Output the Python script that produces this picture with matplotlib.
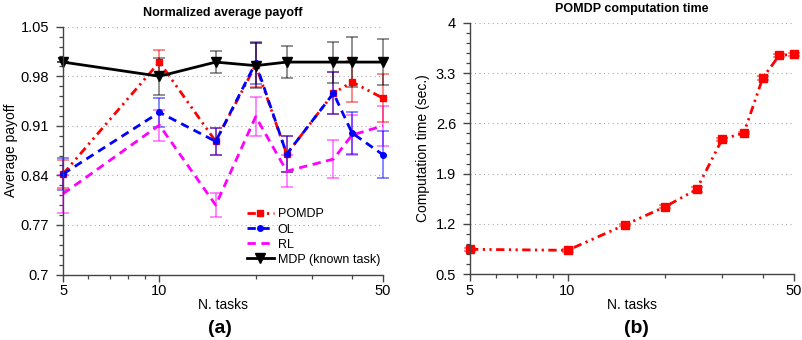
import numpy as np
import matplotlib
matplotlib.use("Agg")
import matplotlib.pyplot as plt

plt.rcParams['font.family'] = ['Liberation Sans', 'DejaVu Sans']

# Normalized average payoff vs number of tasks
n_tasks = [5, 10, 15, 20, 25, 35, 40, 50]
pomdp_payoff = [0.842, 1.000, 0.888, 0.996, 0.870, 0.956, 0.972, 0.949]
pomdp_err = [0.020, 0.017, 0.019, 0.031, 0.025, 0.030, 0.029, 0.034]
ol_payoff = [0.842, 0.929, 0.888, 0.999, 0.870, 0.956, 0.900, 0.869]
ol_err = [0.023, 0.020, 0.019, 0.030, 0.025, 0.030, 0.030, 0.033]
rl_payoff = [0.814, 0.911, 0.798, 0.923, 0.846, 0.863, 0.897, 0.910]
rl_err = [0.027, 0.022, 0.017, 0.027, 0.023, 0.027, 0.028, 0.028]
mdp_payoff = [1.000, 0.980, 1.000, 0.995, 1.000, 1.000, 1.000, 1.000]
mdp_err = [0.000, 0.026, 0.015, 0.032, 0.023, 0.029, 0.035, 0.032]

# POMDP computation time
time_tasks = [5, 10, 15, 20, 25, 30, 35, 40, 45, 50]
time_sec = [0.848, 0.834, 1.186, 1.440, 1.680, 2.380, 2.465, 3.230, 3.546, 3.560]
time_err = [0.02, 0.02, 0.02, 0.02, 0.03, 0.02, 0.02, 0.03, 0.02, 0.02]

payoff_ticks = [0.7, 0.77, 0.84, 0.91, 0.98, 1.05]
payoff_labels = ['0.7', '0.77', '0.84', '0.91', '0.98', '1.05']
time_ticks = [0.5, 1.2, 1.9, 2.6, 3.3, 4.0]
time_labels = ['0.5', '1.2', '1.9', '2.6', '3.3', '4']

fig = plt.figure(figsize=(8.03, 3.4), dpi=100)
ax1 = fig.add_axes([0.0785, 0.1926, 0.3985, 0.7289])
ax2 = fig.add_axes([0.5853, 0.1932, 0.4036, 0.7400])

red, blue, mag = '#ff0000', '#0000ff', '#ff00ff'
dashdot = (0, (3.0, 1.6, 0.8, 1.6, 0.8, 1.6))


def style_axis(ax, yticks, ylabels, minor_step):
    ax.set_xscale('log')
    ax.set_xlim(5, 50)
    ax.set_xticks([5, 10, 50])
    ax.set_xticklabels(['5', '10', '50'])
    ax.set_xticks([6, 7, 8, 9, 20, 30, 40], minor=True)
    ax.set_xticklabels([], minor=True)
    ax.set_ylim(yticks[0], yticks[-1])
    ax.set_yticks(yticks)
    ax.set_yticklabels(ylabels)
    ax.set_yticks(np.arange(yticks[0], yticks[-1] + 1e-9, minor_step), minor=True)
    for s in ['top', 'right']:
        ax.spines[s].set_visible(False)
    for s in ['left', 'bottom']:
        ax.spines[s].set_color('#444444')
        ax.spines[s].set_linewidth(1.0)
    ax.tick_params(which='major', direction='out', length=5, width=1,
                   color='#444444', labelsize=10.5, pad=5)
    ax.tick_params(which='minor', direction='out', length=3, width=0.9,
                   color='#444444')
    ax.tick_params(axis='x', which='major', pad=2)
    ax.yaxis.grid(True, which='major', linestyle=(0, (1, 3)),
                  color='#aaaaaa', linewidth=0.8)
    ax.set_axisbelow(True)


style_axis(ax1, payoff_ticks, payoff_labels, 0.014)
style_axis(ax2, time_ticks, time_labels, 0.14)

ekw = dict(capsize=4.5, elinewidth=1.2, capthick=1.2, clip_on=False)

series = {}
series['RL'] = ax1.errorbar(n_tasks, rl_payoff, yerr=rl_err, color=mag, lw=2,
                            linestyle=(0, (3, 2)), ecolor=(1, 0, 1, 0.55), **ekw)
series['POMDP'] = ax1.errorbar(n_tasks, pomdp_payoff, yerr=pomdp_err, color=red,
                               lw=2, linestyle=dashdot, marker='s', ms=5,
                               mfc=red, mec=red, ecolor=(1, 0, 0, 0.55), **ekw)
series['OL'] = ax1.errorbar(n_tasks, ol_payoff, yerr=ol_err, color=blue, lw=2,
                            linestyle=(0, (3, 2)), marker='o', ms=4,
                            ecolor=(0, 0, 1, 0.55), **ekw)
series['MDP (known task)'] = ax1.errorbar(n_tasks, mdp_payoff, yerr=mdp_err,
                                          color='black', lw=2, linestyle='-',
                                          marker='v', ms=6.5,
                                          ecolor=(0, 0, 0, 0.5), **ekw)

legend_order = ['POMDP', 'OL', 'RL', 'MDP (known task)']
ax1.legend([series[k][0] for k in legend_order], legend_order,
           loc='lower left', bbox_to_anchor=(0.55, 0.005), frameon=False,
           fontsize=9, handlelength=2.2, handletextpad=0.3,
           labelspacing=0.25, borderaxespad=0.2)

ax1.set_title('Normalized average payoff', fontsize=9, fontweight='bold', pad=8)
ax1.set_ylabel('Average payoff', fontsize=10, labelpad=2)
ax1.set_xlabel('N. tasks', fontsize=10, labelpad=0)

ax2.errorbar(time_tasks, time_sec, yerr=time_err, color=red, lw=2,
             linestyle=dashdot, marker='s', ms=5.5, mfc=red, mec=red,
             ecolor=(1, 0, 0, 0.55), **ekw)
ax2.set_title('POMDP computation time', fontsize=9, fontweight='bold', pad=8)
ax2.set_ylabel('Computation time (sec.)', fontsize=10, labelpad=4)
ax2.set_xlabel('N. tasks', fontsize=10, labelpad=0)

fig.text(0.2744, 0.035, '(a)', ha='center', va='center', fontsize=14,
         fontweight='bold')
fig.text(0.792, 0.035, '(b)', ha='center', va='center', fontsize=14,
         fontweight='bold')

fig.savefig('out.png', dpi=100)
